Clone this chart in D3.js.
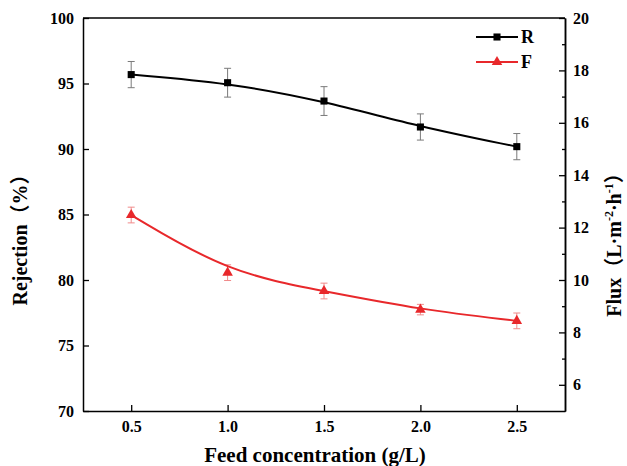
<!DOCTYPE html>
<html><head><meta charset="utf-8">
<script src="https://cdn.jsdelivr.net/npm/d3@7"></script>
<style>body{margin:0;background:#fff} svg{display:block}</style>
</head><body>
<svg id="c" width="627" height="466"></svg>
<script>
const concentrations = [0.5, 1.0, 1.5, 2.0, 2.5];
const rejection = [95.68, 95.06, 93.66, 91.68, 90.18];
const rejectionErr = [1.0, 1.1, 1.1, 1.0, 1.0];
const flux = [12.48, 10.28, 9.58, 8.87, 8.44];
const fluxErr = [0.3, 0.3, 0.3, 0.2, 0.3];
const xTicks = [0.5, 1.0, 1.5, 2.0, 2.5];
const leftTicks = [70, 75, 80, 85, 90, 95, 100];
const rightTicks = [6, 8, 10, 12, 14, 16, 18, 20];
const rightMinorTicks = [7, 9, 11, 13, 15, 17, 19];
const seriesNames = ["R", "F"];

const W = 627, H = 466;
const m = {left: 83, right: 565, top: 18, bottom: 411};
const RED = "#e8282b", RED_ERR = "#f08a8a", GRAY_ERR = "#7a7a7a";
const FONT = "'Liberation Serif','Times New Roman','Noto Sans CJK SC',serif";

const svg = d3.select("#c");
const x = d3.scaleLinear().domain([0.25, 2.75]).range([m.left, m.right]);
const yL = d3.scaleLinear().domain([70, 100]).range([m.bottom, m.top]);
const yR = d3.scaleLinear().domain([5, 20]).range([m.bottom, m.top]);

function styleAxis(g) {
  g.selectAll("path").attr("stroke", "#000").attr("stroke-width", 1.5);
  g.selectAll("line").attr("stroke", "#000").attr("stroke-width", 1.3);
  g.selectAll("text").attr("font-family", FONT).attr("font-weight", "bold")
    .attr("font-size", 16).attr("fill", "#000");
}

// frame top
svg.append("line").attr("x1", m.left).attr("x2", m.right).attr("y1", m.top).attr("y2", m.top)
  .attr("stroke", "#000").attr("stroke-width", 1.5);

svg.append("g").attr("transform", `translate(0,${m.bottom})`)
  .call(d3.axisBottom(x).tickValues(xTicks).tickFormat(d3.format(".1f")).tickSizeInner(-6).tickSizeOuter(0).tickPadding(10))
  .call(styleAxis);

svg.append("g").attr("transform", `translate(${m.left},0)`)
  .call(d3.axisLeft(yL).tickValues(leftTicks).tickSizeInner(-6).tickSizeOuter(0).tickPadding(9))
  .call(styleAxis);

svg.append("g").attr("transform", `translate(${m.right},0)`)
  .call(d3.axisRight(yR).tickValues(rightMinorTicks).tickFormat("").tickSizeInner(-3).tickSizeOuter(0))
  .call(styleAxis);
svg.append("g").attr("transform", `translate(${m.right},0)`)
  .call(d3.axisRight(yR).tickValues(rightTicks).tickSizeInner(-6).tickSizeOuter(0).tickPadding(8))
  .call(styleAxis);

// axis titles
svg.append("text").attr("x", 315).attr("y", 462)
  .attr("text-anchor", "middle").attr("font-family", FONT).attr("font-weight", "bold")
  .attr("font-size", 21).text("Feed concentration (g/L)");

svg.append("text").attr("transform", "translate(27,235) rotate(-90)")
  .attr("text-anchor", "middle").attr("font-family", FONT).attr("font-weight", "bold")
  .attr("font-size", 20).text("Rejection（%）");

const rt = svg.append("text").attr("transform", "translate(621,240) rotate(-90)")
  .attr("text-anchor", "middle").attr("font-family", FONT).attr("font-weight", "bold")
  .attr("font-size", 20);
rt.append("tspan").text("Flux（L·m");
rt.append("tspan").attr("font-size", 12).attr("dy", -8).text("-2");
rt.append("tspan").attr("dy", 8).text("·h");
rt.append("tspan").attr("font-size", 12).attr("dy", -8).text("-1");
rt.append("tspan").attr("dy", 8).text("）");

const rData = concentrations.map((c, i) => ({x: c, y: rejection[i], e: rejectionErr[i]}));
const fData = concentrations.map((c, i) => ({x: c, y: flux[i], e: fluxErr[i]}));

function errorBars(data, ys, color) {
  const g = svg.append("g").attr("stroke", color).attr("stroke-width", 1);
  data.forEach(d => {
    const cx = x(d.x), t = ys(d.y + d.e), b = ys(d.y - d.e);
    g.append("line").attr("x1", cx).attr("x2", cx).attr("y1", t).attr("y2", b);
    g.append("line").attr("x1", cx - 3.5).attr("x2", cx + 3.5).attr("y1", t).attr("y2", t);
    g.append("line").attr("x1", cx - 3.5).attr("x2", cx + 3.5).attr("y1", b).attr("y2", b);
  });
}
errorBars(rData, yL, GRAY_ERR);
errorBars(fData, yR, RED_ERR);

const lineR = d3.line().x(d => x(d.x)).y(d => yL(d.y)).curve(d3.curveBasis);
const lineF = d3.line().x(d => x(d.x)).y(d => yR(d.y)).curve(d3.curveBasis);
svg.append("path").datum(rData).attr("d", lineR).attr("fill", "none").attr("stroke", "#000").attr("stroke-width", 2);
svg.append("path").datum(fData).attr("d", lineF).attr("fill", "none").attr("stroke", RED).attr("stroke-width", 2);

const sq = d3.symbol().type(d3.symbolSquare).size(50);
const tri = d3.symbol().type(d3.symbolTriangle).size(48);
svg.append("g").selectAll("path").data(rData).join("path")
  .attr("d", sq).attr("transform", d => `translate(${x(d.x)},${yL(d.y)})`).attr("fill", "#000");
svg.append("g").selectAll("path").data(fData).join("path")
  .attr("d", tri).attr("transform", d => `translate(${x(d.x)},${yR(d.y)})`).attr("fill", RED);

// legend
const leg = svg.append("g");
[{name: seriesNames[0], color: "#000", sym: sq, y: 37}, {name: seriesNames[1], color: RED, sym: tri, y: 62}].forEach(l => {
  leg.append("line").attr("x1", 476).attr("x2", 518).attr("y1", l.y).attr("y2", l.y)
    .attr("stroke", l.color).attr("stroke-width", 2);
  leg.append("path").attr("d", l.sym).attr("transform", `translate(497,${l.y})`).attr("fill", l.color);
  leg.append("text").attr("x", 521).attr("y", l.y + 6).attr("font-family", FONT).attr("font-weight", "bold")
    .attr("font-size", 18).text(l.name);
});
</script>
</body></html>
